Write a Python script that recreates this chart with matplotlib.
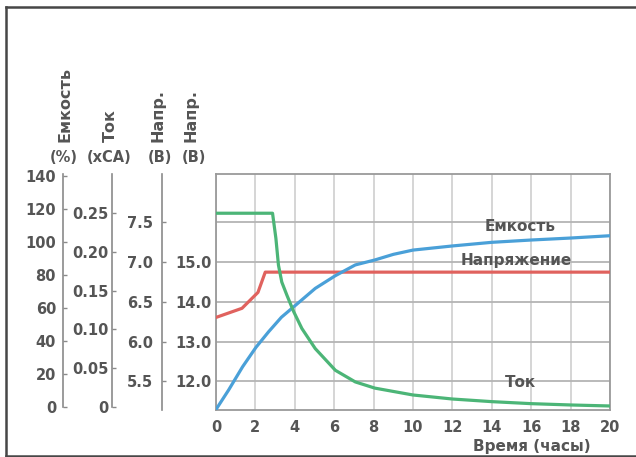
import matplotlib
matplotlib.use("Agg")
import matplotlib.pyplot as plt
from matplotlib.lines import Line2D

plt.rcParams['font.family'] = ['DejaVu Sans']
plt.rcParams['font.weight'] = 'bold'

TXT = '#555555'
SPINE = '#8a8a8a'

# data
cap_t = [0, 0.64, 1.35, 2.03, 2.67, 3.32, 4.05, 5.04, 6.06, 7.07, 8.06, 9.0, 10, 12, 14, 16, 18, 20]
cap_v = [-1.5, 10.3, 24.4, 36.2, 45.6, 54.4, 61.8, 71.9, 79.6, 86.1, 89.1, 92.5, 95.1, 97.6, 99.8,
         101.2, 102.4, 103.8]

cur_t = [0, 2.87, 3.04, 3.17, 3.34, 3.60, 3.94, 4.36, 5.04, 6.06, 7.07, 8.06, 10, 12, 14, 16, 18, 20]
cur_v = [0.25, 0.25, 0.2176, 0.183, 0.161, 0.144, 0.123, 0.101, 0.075, 0.047, 0.032, 0.024, 0.0151,
         0.0099, 0.0065, 0.0039, 0.0022, 0.0009]

volt_t = [0, 1.32, 2.13, 2.5, 20]
volt_v = [13.61, 13.84, 14.24, 14.75, 14.75]

x_ticks = list(range(0, 21, 2))
v12_ticks = [12, 13, 14, 15, 16]
v12_labels = ['12.0', '13.0', '14.0', '15.0', '']
v6_ticks = [5.5, 6.0, 6.5, 7.0, 7.5]
cap_ticks = list(range(0, 141, 20))
cur_ticks = [0, 0.05, 0.10, 0.15, 0.20, 0.25]
cur_labels = ['0', '0.05', '0.10', '0.15', '0.20', '0.25']

W, H = 636, 457
fig = plt.figure(figsize=(W / 100, H / 100), dpi=100)


def fx(px):
    return px / W


def fy(py):
    return 1 - py / H


ax = fig.add_axes([fx(216), fy(410), fx(610) - fx(216), fy(174) - fy(410)])
ax.set_xlim(0, 20)
ax.set_ylim(11.28, 17.22)
ax.set_xticks(x_ticks)
ax.set_yticks(v12_ticks)
ax.set_yticklabels(v12_labels)
ax.tick_params(length=0, colors=TXT, labelsize=10.5)
ax.tick_params(axis='x', pad=7)
ax.tick_params(axis='y', pad=3)
ax.grid(axis='x', color='#d2d2d2', lw=1.3)
ax.grid(axis='y', color='#b4b4b4', lw=1.3)
ax.set_axisbelow(True)
for s in ax.spines.values():
    s.set_color('#9a9a9a')
    s.set_linewidth(1.3)

ax.plot(volt_t, volt_v, color='#e0625e', lw=2.3, zorder=3)

# capacity scale
ax_c = ax.twinx()
ax_c.set_ylim(-1.8, 141.2)
ax_c.plot(cap_t, cap_v, color='#4aa0d8', lw=2.3, zorder=3)
ax_c.yaxis.tick_left()
ax_c.spines['left'].set_position(('axes', (63 - 216) / 394))
ax_c.spines['left'].set_bounds(0, 141.2)
ax_c.set_yticks(cap_ticks)

# current scale
ax_i = ax.twinx()
ax_i.set_ylim(-0.0043, 0.3007)
ax_i.plot(cur_t, cur_v, color='#4cb577', lw=2.3, zorder=3)
ax_i.yaxis.tick_left()
ax_i.spines['left'].set_position(('axes', (111.7 - 216) / 394))
ax_i.spines['left'].set_bounds(0, 0.3007)
ax_i.set_yticks(cur_ticks)
ax_i.set_yticklabels(cur_labels)

# 6 V scale
ax_6 = ax.twinx()
ax_6.set_ylim(11.28 / 2 - 0.5, 17.22 / 2 - 0.5)
ax_6.yaxis.tick_left()
ax_6.spines['left'].set_position(('axes', (161.7 - 216) / 394))
ax_6.set_yticks(v6_ticks)
ax_6.set_yticklabels(['%.1f' % v for v in v6_ticks])

for a, pad in ((ax_c, 5), (ax_i, 2.5), (ax_6, 6.5)):
    for name, s in a.spines.items():
        s.set_visible(name == 'left')
    a.spines['left'].set_color(SPINE)
    a.spines['left'].set_linewidth(1.2)
    a.tick_params(axis='y', direction='in', length=3, width=1, color=SPINE,
                  labelcolor=TXT, labelsize=10.5, pad=pad)

ax.text(15.43, 15.9, 'Емкость', color=TXT, fontsize=11, ha='center', va='center')
ax.text(15.23, 15.04, 'Напряжение', color=TXT, fontsize=11, ha='center', va='center')
ax.text(15.45, 11.97, 'Ток', color=TXT, fontsize=11, ha='center', va='center')
fig.text(fx(531.7), fy(446), 'Время (часы)', color=TXT, fontsize=11, ha='center', va='center')

for px, t in ((64.7, 'Емкость'), (110, 'Ток'), (158, 'Напр.'), (191, 'Напр.')):
    fig.text(fx(px), fy(141.7), t, rotation=90, color=TXT, fontsize=11.5,
             ha='center', va='bottom')
for px, t in ((63.7, '(%)'), (109, '(xCA)'), (160, '(B)'), (193.5, '(B)')):
    fig.text(fx(px), fy(158), t, color=TXT, fontsize=10.5, ha='center', va='center')

# outer frame
frame = dict(color='#474747', lw=1.8, transform=fig.transFigure)
fig.add_artist(Line2D([fx(6), fx(6)], [fy(7), fy(455.5)], **frame))
fig.add_artist(Line2D([fx(6), 1.01], [fy(7), fy(7)], **frame))
fig.add_artist(Line2D([fx(6), 1.01], [fy(455.5), fy(455.5)], **frame))

fig.savefig('out.png', dpi=100)
